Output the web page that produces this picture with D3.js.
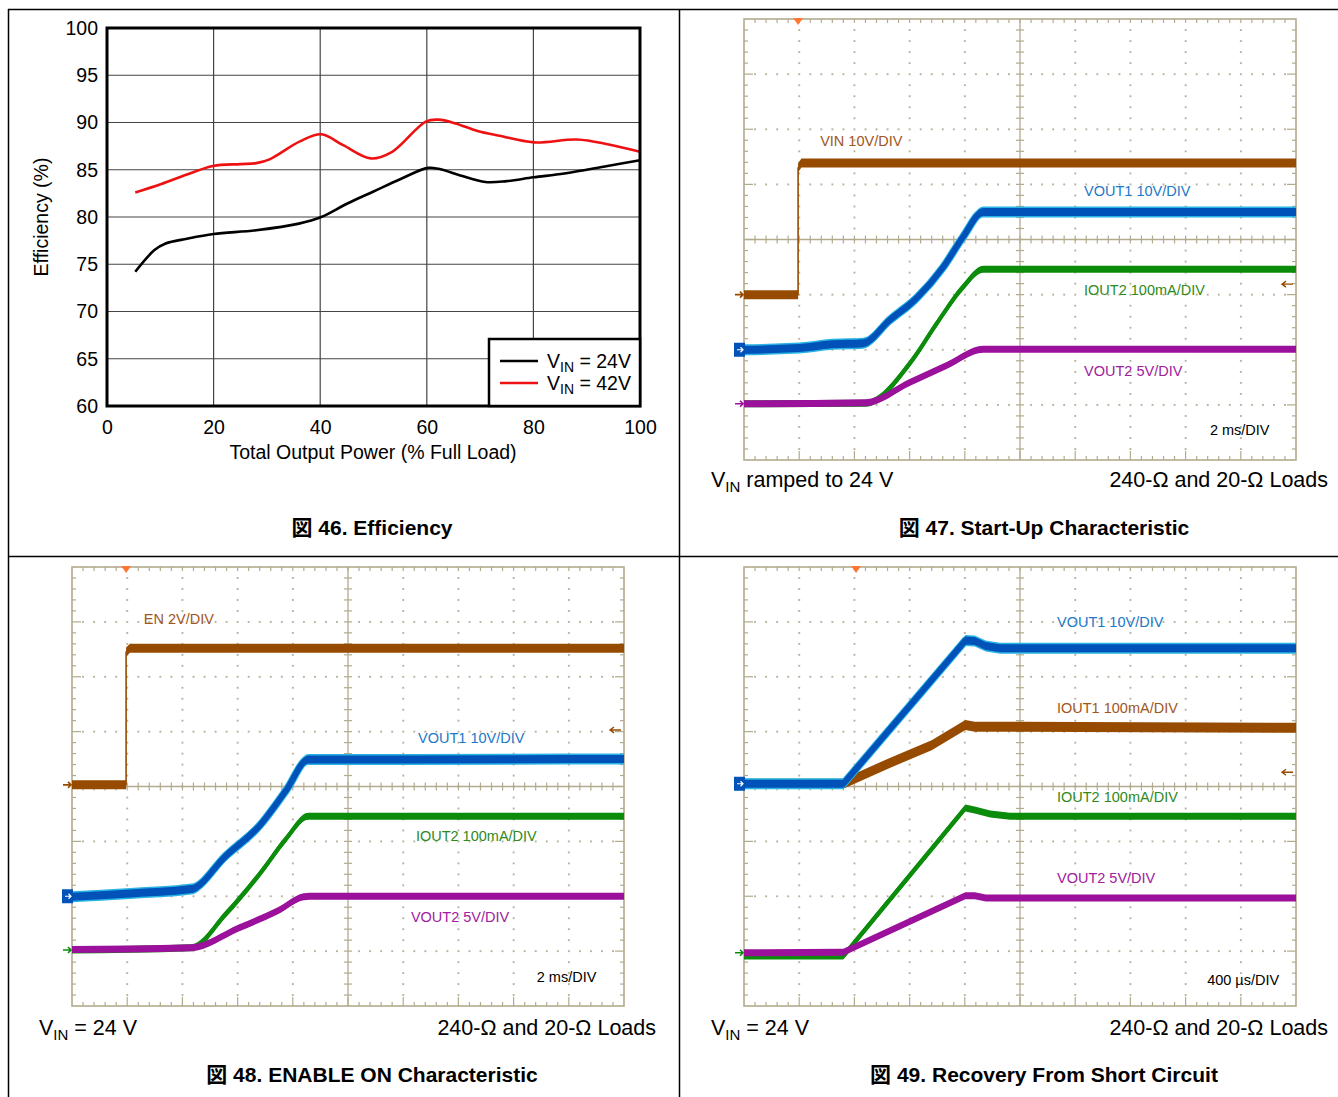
<!DOCTYPE html>
<html><head><meta charset="utf-8">
<script src="https://cdn.jsdelivr.net/npm/d3@7"></script>
<style>
body{margin:0;background:#fff}
svg{display:block}
text{font-family:"Liberation Sans",Arial,"Noto Sans CJK JP",sans-serif}
</style>
</head><body>
<svg id="c" width="1338" height="1097"></svg>
<script>
// ---------- DATA ----------
// Figure 46: Efficiency
const effXTicks = [0, 20, 40, 60, 80, 100];
const effYTicks = [60, 65, 70, 75, 80, 85, 90, 95, 100];
const load24 = [5.3, 8.9, 11, 15, 20, 28, 36, 40.2, 45, 50, 55, 60.2, 62.2, 66.3, 71, 75, 80, 85.8, 93.9, 100];
const eff24  = [74.2, 76.5, 77.2, 77.7, 78.2, 78.6, 79.3, 80.0, 81.4, 82.7, 84.0, 85.2, 85.1, 84.4, 83.7, 83.8, 84.2, 84.6, 85.4, 86.0];
const load42 = [5.3, 10.2, 15, 19.9, 25, 28, 30.5, 36.2, 40.2, 44.3, 49.5, 53.5, 59.8, 62.2, 65.4, 69.5, 73.6, 80.1, 88.2, 93.9, 100];
const eff42  = [82.6, 83.5, 84.5, 85.4, 85.6, 85.7, 86.1, 88.0, 88.75, 87.6, 86.2, 86.9, 90.1, 90.3, 89.9, 89.1, 88.6, 87.9, 88.2, 87.7, 86.9];
const effSeries = ["V_IN = 24V", "V_IN = 42V"];

// Scope traces: [time (div), level (div from bottom)]
const f47_vin   = [[0,3.0],[0.98,3.0],[0.98,5.30],[1.04,5.39],[10,5.39]];
const f47_vout1 = [[0,2.0],[1.0,2.03],[1.6,2.1],[2.16,2.12],[2.64,2.54],[3.13,2.94],[3.61,3.50],[3.97,4.05],[4.33,4.50],[10,4.50]];
const f47_iout2 = [[0,1.02],[2.21,1.03],[3.01,1.76],[3.50,2.49],[3.97,3.14],[4.33,3.46],[10,3.46]];
const f47_vout2 = [[0,1.02],[2.21,1.04],[3.01,1.41],[3.68,1.72],[4.33,2.01],[10,2.01]];

const f48_en    = [[0,4.03],[0.98,4.03],[0.98,6.45],[1.05,6.52],[10,6.52]];
const f48_vout1 = [[0,1.99],[1.05,2.05],[2.16,2.13],[2.78,2.73],[3.41,3.30],[3.88,3.93],[4.28,4.49],[10,4.50]];
const f48_iout2 = [[0,1.02],[2.16,1.06],[2.78,1.67],[3.41,2.42],[3.88,3.05],[4.28,3.46],[10,3.46]];
const f48_vout2 = [[0,1.03],[2.16,1.06],[3.02,1.42],[3.72,1.73],[4.20,1.99],[4.31,2.0],[10,2.0]];

const f49_vout1 = [[0,4.05],[1.80,4.05],[4.01,6.66],[4.18,6.65],[4.38,6.56],[4.64,6.52],[10,6.52]];
const f49_iout1 = [[0,4.05],[1.80,4.05],[2.64,4.43],[3.40,4.75],[4.01,5.12],[4.18,5.09],[10,5.07]];
const f49_iout2 = [[0,0.91],[1.80,0.91],[4.01,3.61],[4.18,3.57],[4.46,3.50],[4.82,3.46],[10,3.46]];
const f49_vout2 = [[0,0.97],[1.80,0.98],[4.01,2.01],[4.18,2.01],[4.38,1.97],[10,1.97]];

const titles = ["図 46. Efficiency", "図 47. Start-Up Characteristic", "図 48. ENABLE ON Characteristic", "図 49. Recovery From Short Circuit"];

// ---------- DRAW ----------
const svg = d3.select('#c');
svg.append('rect').attr('width',1338).attr('height',1097).attr('fill','#fff');

// frame
const frame = svg.append('g').attr('stroke','#000').attr('stroke-width',1.5);
frame.append('line').attr('x1',8).attr('y1',9.5).attr('x2',1338).attr('y2',9.5);
frame.append('line').attr('x1',8).attr('y1',556.5).attr('x2',1338).attr('y2',556.5);
frame.append('line').attr('x1',8.5).attr('y1',9).attr('x2',8.5).attr('y2',1097);
frame.append('line').attr('x1',679.5).attr('y1',9).attr('x2',679.5).attr('y2',1097);

// ----- Efficiency chart -----
(function(){
  const FS = 19.5;
  const ex = d3.scaleLinear().domain([0,100]).range([107,640]);
  const ey = d3.scaleLinear().domain([60,100]).range([406,28]);
  const g = svg.append('g');
  g.selectAll('.vg').data(effXTicks.slice(1,-1)).join('line')
    .attr('x1',d=>ex(d)).attr('x2',d=>ex(d)).attr('y1',ey(60)).attr('y2',ey(100))
    .attr('stroke','#444').attr('stroke-width',1.2);
  g.selectAll('.hg').data(effYTicks.slice(1,-1)).join('line')
    .attr('y1',d=>ey(d)).attr('y2',d=>ey(d)).attr('x1',ex(0)).attr('x2',ex(100))
    .attr('stroke','#444').attr('stroke-width',1.2);

  const ax = g.append('g').attr('transform',`translate(0,${ey(60)})`)
    .call(d3.axisBottom(ex).tickValues(effXTicks).tickSize(0).tickPadding(14));
  const ay = g.append('g').attr('transform',`translate(${ex(0)},0)`)
    .call(d3.axisLeft(ey).tickValues(effYTicks).tickSize(0).tickPadding(9));
  [ax,ay].forEach(a=>{a.select('.domain').remove(); a.selectAll('text').attr('font-size',FS).attr('fill','#000').style('font-family','"Liberation Sans",Arial,sans-serif');});

  const line = d3.line().curve(d3.curveCatmullRom.alpha(0.5)).x(d=>ex(d[0])).y(d=>ey(d[1]));
  const s24 = load24.map((v,i)=>[v,eff24[i]]);
  const s42 = load42.map((v,i)=>[v,eff42[i]]);
  g.append('path').attr('d',line(s42)).attr('fill','none').attr('stroke','#ee1111').attr('stroke-width',2.6);
  g.append('path').attr('d',line(s24)).attr('fill','none').attr('stroke','#000').attr('stroke-width',2.6);

  g.append('rect').attr('x',ex(0)).attr('y',ey(100)).attr('width',ex(100)-ex(0)).attr('height',ey(60)-ey(100))
    .attr('fill','none').attr('stroke','#000').attr('stroke-width',3);

  // legend
  const lg = g.append('g');
  lg.append('rect').attr('x',489).attr('y',339).attr('width',151).attr('height',67)
    .attr('fill','#fff').attr('stroke','#000').attr('stroke-width',2.5);
  const lcol = ['#000','#ee1111'];
  effSeries.forEach((s,i)=>{
    const yy = 361 + i*22;
    lg.append('line').attr('x1',500).attr('x2',538).attr('y1',yy).attr('y2',yy).attr('stroke',lcol[i]).attr('stroke-width',2.6);
    const parts = s.split('_IN');
    const t = lg.append('text').attr('x',547).attr('y',yy+7).attr('font-size',FS).attr('fill','#000');
    t.append('tspan').text(parts[0]);
    t.append('tspan').attr('font-size',14).attr('dy',4).text('IN');
    t.append('tspan').attr('dy',-4).text(parts[1]);
  });

  g.append('text').attr('x',373).attr('y',459).attr('text-anchor','middle').attr('font-size',FS).text('Total Output Power (% Full Load)');
  g.append('text').attr('transform','translate(48,217) rotate(-90)').attr('text-anchor','middle').attr('font-size',FS).text('Efficiency (%)');
})();

// ----- Scope panels -----
const GRID = '#b2ab8e', DOT = '#b8b29a';
const COL = {
  brown:{c:'#964b00', lab:'#a0561c'},
  blue:{c:'#0052b8', lab:'#1c78c8', edge:'#2ab4e6'},
  green:{c:'#0b8c0b', lab:'#2f8a1a'},
  mag:{c:'#9b119b', lab:'#a020a0'}
};

function scope(cfg){
  const g = svg.append('g');
  const x = d3.scaleLinear().domain([0,10]).range([cfg.left,cfg.right]);
  const y = d3.scaleLinear().domain([0,8]).range([cfg.bottom,cfg.top]);
  const minor = (n)=>d3.range(1, n*5).map(i=>i/5);
  // dotted grid
  const dots = [];
  for (let i=1;i<10;i++){ if(i===5) continue; minor(8).forEach(v=>dots.push([i,v])); }
  for (let j=1;j<8;j++){ if(j===4) continue; minor(10).forEach(v=>{ if(Math.abs(v-Math.round(v))>1e-6) dots.push([v,j]); }); }
  g.selectAll('.dot').data(dots).join('rect')
    .attr('x',d=>x(d[0])-0.9).attr('y',d=>y(d[1])-0.9).attr('width',1.9).attr('height',1.9).attr('fill',DOT);
  // center crosshair
  g.append('line').attr('x1',x(5)).attr('x2',x(5)).attr('y1',y(0)).attr('y2',y(8)).attr('stroke',GRID).attr('stroke-width',1.3);
  g.append('line').attr('x1',x(0)).attr('x2',x(10)).attr('y1',y(4)).attr('y2',y(4)).attr('stroke',GRID).attr('stroke-width',1.3);
  const tk = [];
  minor(10).forEach(v=>{
    const L = Math.abs(v-Math.round(v))<1e-6 ? 9 : 4;
    tk.push([x(v),y(4)-4,x(v),y(4)+4]);
    tk.push([x(v),y(0),x(v),y(0)-L]);
    tk.push([x(v),y(8),x(v),y(8)+4]);
  });
  minor(8).forEach(v=>{
    const L = Math.abs(v-Math.round(v))<1e-6 ? 9 : 4;
    tk.push([x(5)-4,y(v),x(5)+4,y(v)]);
    tk.push([x(0),y(v),x(0)+L,y(v)]);
    tk.push([x(10),y(v),x(10)-L,y(v)]);
  });
  g.selectAll('.tk').data(tk).join('line')
    .attr('x1',d=>d[0]).attr('y1',d=>d[1]).attr('x2',d=>d[2]).attr('y2',d=>d[3])
    .attr('stroke',GRID).attr('stroke-width',1.2);
  g.append('rect').attr('x',x(0)).attr('y',y(8)).attr('width',x(10)-x(0)).attr('height',y(0)-y(8))
    .attr('fill','none').attr('stroke',GRID).attr('stroke-width',1.6);

  // trigger marker
  const tx = x(cfg.trig);
  g.append('path').attr('d',`M${tx-5},${y(8)-1}L${tx+5},${y(8)-1}L${tx},${y(8)+6}Z`).attr('fill','#ff7733');

  // traces
  cfg.traces.forEach(tr=>{
    const st = COL[tr.col];
    const curve = tr.smooth ? d3.curveMonotoneX : d3.curveLinear;
    const line = d3.line().curve(curve).x(d=>x(d[0])).y(d=>y(d[1]));
    const area = (b)=>d3.area().curve(curve).x(d=>x(d[0])).y0(d=>y(d[1])-b/2).y1(d=>y(d[1])+b/2);
    if (st.edge){
      g.append('path').attr('d',area(tr.band+3)(tr.pts)).attr('fill',st.edge);
      g.append('path').attr('d',line(tr.pts)).attr('fill','none').attr('stroke',st.edge).attr('stroke-width',tr.w+2).attr('stroke-linejoin','round');
    }
    g.append('path').attr('d',area(tr.band)(tr.pts)).attr('fill',st.c);
    g.append('path').attr('d',line(tr.pts)).attr('fill','none').attr('stroke',st.c).attr('stroke-width',tr.w).attr('stroke-linejoin','round');
  });

  // channel markers (left)
  cfg.markers.forEach(m=>{
    const yy = y(m.v), xl = x(0);
    if (m.box){
      g.append('rect').attr('x',xl-10).attr('y',yy-7).attr('width',11).attr('height',14).attr('fill',COL[m.col].c);
      g.append('path').attr('d',`M${xl-7},${yy}L${xl-1},${yy}M${xl-3.5},${yy-2.5}L${xl-1},${yy}L${xl-3.5},${yy+2.5}`).attr('stroke','#fff').attr('stroke-width',1.2).attr('fill','none');
    } else {
      g.append('path').attr('d',`M${xl-9},${yy}L${xl-1},${yy}M${xl-4},${yy-3}L${xl-1},${yy}L${xl-4},${yy+3}`).attr('stroke',COL[m.col].c).attr('stroke-width',1.6).attr('fill','none');
    }
  });
  // right arrow
  if (cfg.rightArrow!=null){
    const yy = y(cfg.rightArrow), xr = x(10);
    g.append('path').attr('d',`M${xr-3},${yy}L${xr-14},${yy}M${xr-10},${yy-3}L${xr-14},${yy}L${xr-10},${yy+3}`).attr('stroke',COL.brown.c).attr('stroke-width',1.4).attr('fill','none');
  }
  // labels
  cfg.labels.forEach(l=>{
    g.append('text').attr('x',x(l.t)).attr('y',y(l.v)).attr('font-size',14.5)
      .attr('fill', l.col ? COL[l.col].lab : '#000').text(l.text);
  });
  // captions
  const cap = cfg.caption;
  const t1 = g.append('text').attr('x',cap.lx).attr('y',cap.y).attr('font-size',21.5).attr('fill','#000');
  t1.append('tspan').text('V');
  t1.append('tspan').attr('font-size',15).attr('dy',5).text('IN');
  t1.append('tspan').attr('dy',-5).text(cap.left);
  g.append('text').attr('x',cap.rx).attr('y',cap.y).attr('font-size',21.5).attr('text-anchor','end').text('240-Ω and 20-Ω Loads');
}

scope({
  left:744, right:1296, top:19, bottom:460, trig:0.98,
  traces:[
    {pts:f47_vin, col:'brown', band:9, w:1.6},
    {pts:f47_vout1, col:'blue', band:8, w:6, smooth:true},
    {pts:f47_iout2, col:'green', band:7, w:4, smooth:true},
    {pts:f47_vout2, col:'mag', band:7, w:5, smooth:true}
  ],
  markers:[{v:3.0,col:'brown'},{v:2.0,col:'blue',box:true},{v:1.02,col:'mag'}],
  rightArrow:3.19,
  labels:[
    {t:1.38, v:5.70, text:'VIN 10V/DIV', col:'brown'},
    {t:6.16, v:4.79, text:'VOUT1 10V/DIV', col:'blue'},
    {t:6.16, v:2.99, text:'IOUT2 100mA/DIV', col:'green'},
    {t:6.16, v:1.52, text:'VOUT2 5V/DIV', col:'mag'},
    {t:8.44, v:0.45, text:'2 ms/DIV'}
  ],
  caption:{lx:711, rx:1328, y:487, left:' ramped to 24 V'}
});

scope({
  left:72, right:624, top:567, bottom:1006, trig:0.98,
  traces:[
    {pts:f48_en, col:'brown', band:9, w:1.6},
    {pts:f48_vout1, col:'blue', band:8, w:6, smooth:true},
    {pts:f48_iout2, col:'green', band:7, w:4, smooth:true},
    {pts:f48_vout2, col:'mag', band:7, w:5, smooth:true}
  ],
  markers:[{v:4.03,col:'brown'},{v:2.0,col:'blue',box:true},{v:1.02,col:'green'}],
  rightArrow:5.03,
  labels:[
    {t:1.30, v:6.96, text:'EN 2V/DIV', col:'brown'},
    {t:6.27, v:4.79, text:'VOUT1 10V/DIV', col:'blue'},
    {t:6.23, v:3.01, text:'IOUT2 100mA/DIV', col:'green'},
    {t:6.14, v:1.53, text:'VOUT2 5V/DIV', col:'mag'},
    {t:8.42, v:0.44, text:'2 ms/DIV'}
  ],
  caption:{lx:39, rx:656, y:1035, left:' = 24 V'}
});

scope({
  left:744, right:1296, top:567, bottom:1006, trig:2.03,
  traces:[
    {pts:f49_iout1, col:'brown', band:10, w:6},
    {pts:f49_vout1, col:'blue', band:8, w:6},
    {pts:f49_iout2, col:'green', band:7, w:4},
    {pts:f49_vout2, col:'mag', band:7, w:5}
  ],
  markers:[{v:4.05,col:'blue',box:true},{v:0.97,col:'green'}],
  rightArrow:4.26,
  labels:[
    {t:5.67, v:6.91, text:'VOUT1 10V/DIV', col:'blue'},
    {t:5.67, v:5.34, text:'IOUT1 100mA/DIV', col:'brown'},
    {t:5.67, v:3.72, text:'IOUT2 100mA/DIV', col:'green'},
    {t:5.67, v:2.24, text:'VOUT2 5V/DIV', col:'mag'},
    {t:8.39, v:0.38, text:'400 µs/DIV'}
  ],
  caption:{lx:711, rx:1328, y:1035, left:' = 24 V'}
});

// titles
const titlePos = [[372,535],[1044,535],[372,1082],[1044,1082]];
titles.forEach((t,i)=>{
  svg.append('text').attr('x',titlePos[i][0]).attr('y',titlePos[i][1]).attr('text-anchor','middle')
    .attr('font-size',21).attr('font-weight','bold').text(t);
});
</script>
</body></html>
